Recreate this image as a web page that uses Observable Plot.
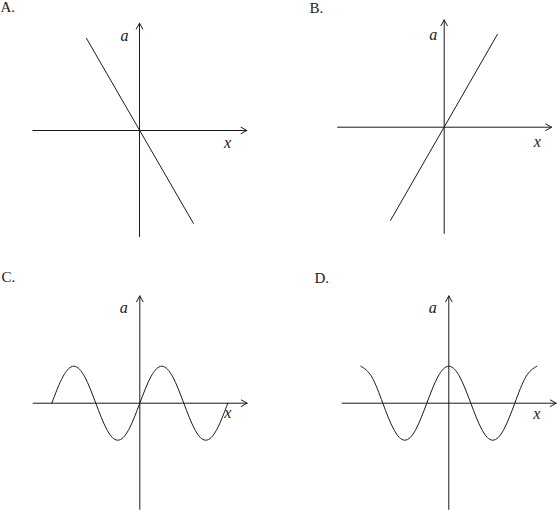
<!DOCTYPE html>
<html><head><meta charset="utf-8">
<script src="https://cdn.jsdelivr.net/npm/d3@7"></script>
<script src="https://cdn.jsdelivr.net/npm/@observablehq/plot@0.6"></script>
<style>
body{margin:0;background:#fff;}
#chart{position:relative;width:558px;height:513px;overflow:hidden;background:#fff;}
.panel{position:absolute;}
.panel svg{display:block;overflow:visible;}
</style></head><body><div id="chart"></div>
<script>
// ---- data (x unit = quarter period, a unit = amplitude) ----
const panelNames = ["A.", "B.", "C.", "D."];
const axisNames = ["x", "a"];
const axisXEnds = [-4.85, 4.88];
const axisYEnds = [-2.87, 2.9];
// A: straight line with negative slope through origin
const lineAX = [-2.41, 2.45];
const lineAY = [2.49, -2.51];
// B: straight line with positive slope through origin
const lineBX = [-2.44, 2.42];
const lineBY = [-2.52, 2.51];
// C and D: waves, points read every eighth of a period
const waveX = [-4, -3.5, -3, -2.5, -2, -1.5, -1, -0.5, 0, 0.5, 1, 1.5, 2, 2.5, 3, 3.5, 4];
const waveC = [0, 0.71, 1, 0.71, 0, -0.71, -1, -0.71, 0, 0.71, 1, 0.71, 0, -0.71, -1, -0.71, 0];
const waveD = [1, 0.71, 0, -0.71, -1, -0.71, 0, 0.71, 1, 0.71, 0, -0.71, -1, -0.71, 0, 0.71, 1];

const curves = [
  lineAX.map((x, i) => ({x, a: lineAY[i]})),
  lineBX.map((x, i) => ({x, a: lineBY[i]})),
  waveX.map((x, i) => ({x, a: waveC[i]})),
  waveX.map((x, i) => ({x, a: waveD[i]}))
];
const curveTypes = ["linear", "linear", "natural", "natural"];

// ---- layout (pixels) ----
const layout = [
  {left: 0,   top: 0,   w: 279, h: 256, ox: 139,   oy: 130,   nameDx: 0,  nameDy: 1, aDx: -15, aDy: -95, xDx: 88, xDy: 12},
  {left: 279, top: 0,   w: 279, h: 256, ox: 164.7, oy: 126.7, nameDx: 30, nameDy: 2, aDx: -11, aDy: -92, xDx: 93, xDy: 15},
  {left: 0,   top: 256, w: 279, h: 257, ox: 139.3, oy: 146.7, nameDx: 1,  nameDy: 15, aDx: -16, aDy: -95, xDx: 88, xDy: 10},
  {left: 279, top: 256, w: 279, h: 257, ox: 169.3, oy: 146.7, nameDx: 35, nameDy: 16, aDx: -16, aDy: -95, xDx: 88, xDy: 11}
];
const PX_X = 22, PX_Y = 37;
const ink = "#1a1a1a";
const font = "'Liberation Serif', 'Times New Roman', serif";

const chart = document.getElementById("chart");
layout.forEach((L, i) => {
  const axes = [
    {x1: axisXEnds[0], y1: 0, x2: axisXEnds[1], y2: 0},
    {x1: 0, y1: axisYEnds[0], x2: 0, y2: axisYEnds[1]}
  ];
  const p = Plot.plot({
    width: L.w, height: L.h,
    marginTop: 0, marginRight: 0, marginBottom: 0, marginLeft: 0,
    x: {type: "linear", domain: [0, 1], range: [L.ox, L.ox + PX_X], axis: null},
    y: {type: "linear", domain: [0, 1], range: [L.oy, L.oy - PX_Y], axis: null},
    style: {fontFamily: font, background: "transparent", overflow: "visible"},
    marks: [
      Plot.arrow(axes, {x1: "x1", y1: "y1", x2: "x2", y2: "y2", stroke: ink, strokeWidth: 1, headLength: 10, headAngle: 58}),
      Plot.line(curves[i], {x: "x", y: "a", stroke: ink, strokeWidth: 1, curve: curveTypes[i]}),
      Plot.text([axisNames[1]], {x: 0, y: 0, text: d => d, dx: L.aDx, dy: L.aDy, fontStyle: "italic", fontSize: 16, fill: ink}),
      Plot.text([axisNames[0]], {x: 0, y: 0, text: d => d, dx: L.xDx, dy: L.xDy, fontStyle: "italic", fontSize: 16, fill: ink}),
      Plot.text([panelNames[i]], {frameAnchor: "top-left", text: d => d, textAnchor: "start", lineAnchor: "top", dx: L.nameDx, dy: L.nameDy, fontSize: 15, fill: ink})
    ]
  });
  const div = document.createElement("div");
  div.className = "panel";
  div.style.left = L.left + "px";
  div.style.top = L.top + "px";
  div.appendChild(p);
  chart.appendChild(div);
});
</script>
</body></html>
